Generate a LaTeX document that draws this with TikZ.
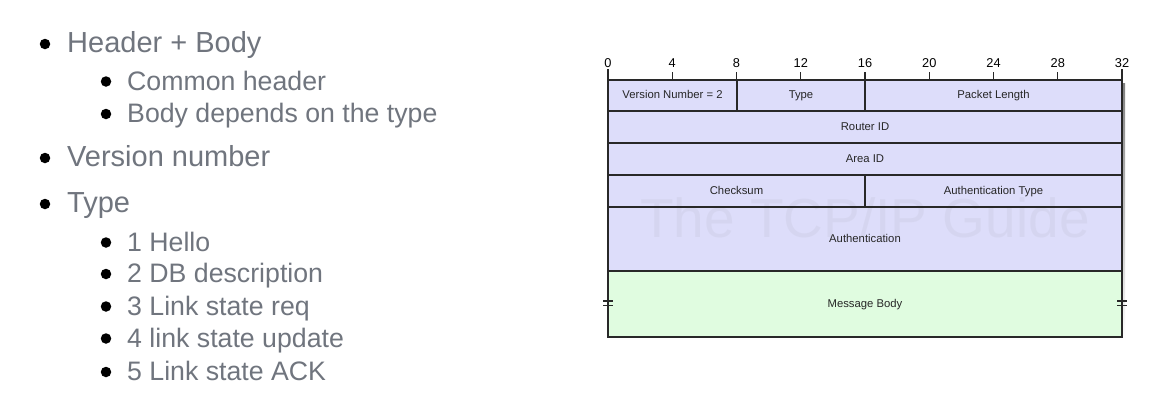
\documentclass[tikz,border=0pt]{standalone}
\usepackage{fontspec}
\setmainfont{Liberation Sans}
\definecolor{txtgray}{RGB}{112,117,126}
\definecolor{hdrfill}{RGB}{221,221,250}
\definecolor{bodyfill}{RGB}{224,252,224}
\definecolor{edge}{RGB}{40,40,40}
\definecolor{shade}{RGB}{205,205,185}
\definecolor{wmark}{RGB}{120,120,120}
\begin{document}
\begin{tikzpicture}[x=1pt,y=-1pt,
  bul/.style={circle,fill=black,inner sep=0pt,minimum size=10.5pt},
  lvl1/.style={anchor=base west,inner sep=0pt,text=txtgray,font=\fontsize{29}{32}\selectfont},
  lvl2/.style={anchor=base west,inner sep=0pt,text=txtgray,font=\fontsize{26.7}{29}\selectfont},
  field/.style={inner sep=0pt,text height=8.2pt,text depth=2.4pt,font=\fontsize{11.3}{13}\selectfont,text=black!85},
  rulnum/.style={anchor=base,inner sep=0pt,font=\fontsize{12.8}{14}\selectfont},
  tablerule/.style={draw=edge,line width=1.1pt}]
\path[use as bounding box,fill=white] (0,0) rectangle (1159,402);
% ---- bullet list ----
\node[bul] (b1) at (45,44) {};
\node[lvl1] (t1) at (67,52.5) {Header + Body};
\node[bul] (b11) at (106,81.5) {};
\node[lvl2] (t11) at (127,90) {Common header};
\node[bul] (b12) at (106,114) {};
\node[lvl2] (t12) at (127,122.5) {Body depends on the type};
\node[bul] (b2) at (45,158) {};
\node[lvl1] (t2) at (67,166.5) {Version number};
\node[bul] (b3) at (45,204) {};
\node[lvl1] (t3) at (67,212.5) {Type};
\node[bul] (b31) at (106,242.5) {};
\node[lvl2] (t31) at (127,251) {1 Hello};
\node[bul] (b32) at (106,274) {};
\node[lvl2] (t32) at (127,282.5) {2 DB description};
\node[bul] (b33) at (106,306.5) {};
\node[lvl2] (t33) at (127,315) {3 Link state req};
\node[bul] (b34) at (106,338.5) {};
\node[lvl2] (t34) at (127,347) {4 link state update};
\node[bul] (b35) at (106,372) {};
\node[lvl2] (t35) at (127,380.5) {5 Link state ACK};
% ---- packet table ----
% shadow
\fill[shade] (611,83) rectangle (1125,340);
% fills
\fill[hdrfill] (608,80) rectangle (1122,271);
\fill[bodyfill] (608,271) rectangle (1122,337);
% watermark
\node[inner sep=0pt,text=wmark,opacity=0.07,font=\fontsize{55}{57}\selectfont] (wm) at (865,218) {The TCP/IP Guide};
% field labels
\node[field] (f1) at (672.5,96) {Version Number = 2};
\node[field] (f2) at (801,96) {Type};
\node[field] (f3) at (993.5,96) {Packet Length};
\node[field] (f4) at (865,128) {Router ID};
\node[field] (f5) at (865,160) {Area ID};
\node[field] (f6) at (736.5,191.5) {Checksum};
\node[field] (f7) at (993.5,191.5) {Authentication Type};
\node[field] (f8) at (865,240) {Authentication};
\node[field] (f9) at (865,305) {Message Body};
% lines
\draw[tablerule] (608,80) rectangle (1122,337);
\draw[tablerule] (608,111) -- (1122,111);
\draw[tablerule] (608,143) -- (1122,143);
\draw[tablerule] (608,175) -- (1122,175);
\draw[tablerule] (608,207) -- (1122,207);
\draw[tablerule] (608,271) -- (1122,271);
\draw[tablerule] (737,80) -- (737,111);
\draw[tablerule] (865,80) -- (865,111);
\draw[tablerule] (865,175) -- (865,207);
% break marks
\draw[tablerule] (603,301) -- (613,301) (603,305.5) -- (613,305.5);
\draw[tablerule] (1117,301) -- (1127,301) (1117,305.5) -- (1127,305.5);
% ruler
\foreach \b in {0,4,...,32}{
  \pgfmathsetmacro{\xx}{608+\b*16.0625}
  \node[rulnum] (r\b) at (\xx,67.5) {\b};
}
\draw[tablerule] (608,69) -- (608,80);
\draw[tablerule] (1122,69) -- (1122,80);
\foreach \b in {4,8,...,28}{
  \pgfmathsetmacro{\xx}{608+\b*16.0625}
  \draw[edge,line width=1.1pt] (\xx,72) -- (\xx,80);
}
\end{tikzpicture}
\end{document}
